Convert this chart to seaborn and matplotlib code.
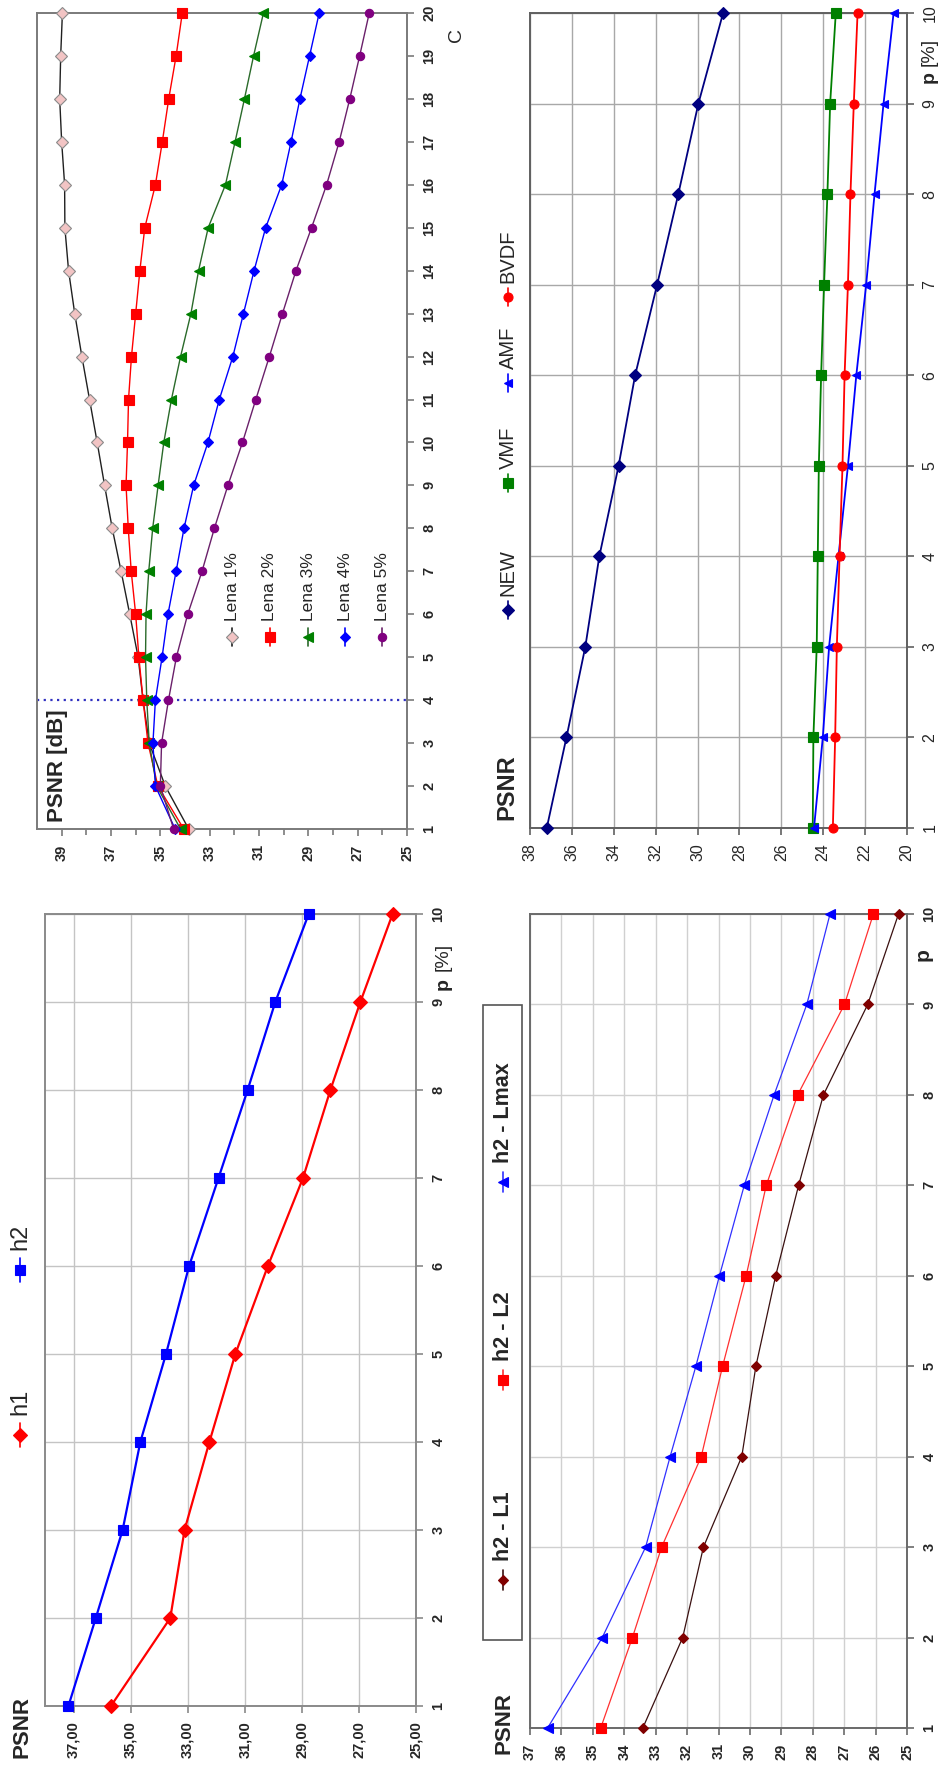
import matplotlib
matplotlib.use('Agg')
import matplotlib.pyplot as plt
from matplotlib.lines import Line2D
import seaborn as sns

# the whole sheet is a page of four charts turned 90 degrees counter-clockwise:
# PSNR runs along the image x axis (high on the left), p / C up the image y axis

W, H = 938, 1766

# --- panel A: PSNR [dB] vs C for Lena at several noise levels
c_vals = [1, 2, 3, 4, 5, 6, 7, 8, 9, 10, 11, 12, 13, 14, 15, 16, 17, 18, 19, 20]
lena_1 = [33.85, 34.80, 35.45, 35.70, 35.90, 36.24, 36.59, 36.95, 37.26, 37.56,
          37.87, 38.18, 38.47, 38.72, 38.87, 38.88, 39.00, 39.08, 39.04, 38.97]
lena_2 = [34.05, 35.10, 35.50, 35.70, 35.87, 36.00, 36.18, 36.30, 36.39, 36.33,
          36.29, 36.17, 36.00, 35.83, 35.63, 35.20, 34.92, 34.66, 34.36, 34.11]
lena_3 = [34.18, 35.15, 35.45, 35.55, 35.60, 35.58, 35.47, 35.31, 35.09, 34.86,
          34.55, 34.18, 33.76, 33.45, 33.06, 32.36, 31.97, 31.59, 31.22, 30.82]
lena_4 = [34.40, 35.20, 35.30, 35.20, 34.93, 34.69, 34.36, 34.04, 33.65, 33.07,
          32.61, 32.06, 31.63, 31.20, 30.73, 30.08, 29.70, 29.34, 28.95, 28.56]
lena_5 = [34.46, 35.00, 34.95, 34.67, 34.35, 33.89, 33.31, 32.81, 32.26, 31.67,
          31.13, 30.58, 30.05, 29.50, 28.87, 28.26, 27.75, 27.32, 26.92, 26.53]
lena_names = ['Lena 1%', 'Lena 2%', 'Lena 3%', 'Lena 4%', 'Lena 5%']
c_marked = 4

# --- p axis shared by the other three panels
p_vals = [1, 2, 3, 4, 5, 6, 7, 8, 9, 10]

# --- panel B: filters comparison
new_f = [37.20, 36.26, 35.36, 34.69, 33.77, 32.98, 31.93, 30.92, 29.96, 28.78]
vmf_f = [24.50, 24.47, 24.31, 24.26, 24.21, 24.10, 23.96, 23.80, 23.67, 23.40]
amf_f = [24.44, 24.02, 23.72, 23.27, 22.82, 22.42, 21.95, 21.55, 21.12, 20.64]
bvdf_f = [23.54, 23.43, 23.35, 23.22, 23.08, 22.98, 22.82, 22.70, 22.54, 22.36]
filter_names = ['NEW', 'VMF', 'AMF', 'BVDF']

# --- panel C: h1 / h2
h1 = [35.69, 33.61, 33.11, 32.24, 31.33, 30.19, 28.96, 28.00, 26.95, 25.82]
h2 = [37.18, 36.22, 35.28, 34.66, 33.76, 32.95, 31.92, 30.90, 29.93, 28.76]
h_names = ['h1', 'h2']

# --- panel D: h2 with different norms
h2_l1 = [33.41, 32.14, 31.48, 30.26, 29.81, 29.18, 28.45, 27.66, 26.25, 25.27]
h2_l2 = [34.75, 33.74, 32.81, 31.55, 30.87, 30.12, 29.48, 28.48, 26.99, 26.07]
h2_lmax = [36.44, 34.70, 33.32, 32.54, 31.72, 30.97, 30.18, 29.23, 28.19, 27.45]
norm_names = ['h2 - L1', 'h2 - L2', 'h2 - Lmax']

sns.set_theme(style='white')
plt.rcParams['font.family'] = ['Liberation Sans', 'DejaVu Sans']

fig = plt.figure(figsize=(W / 100, H / 100), dpi=100)


def add_panel(x0, y0, x1, y1):
    # pixel box of the reference -> figure fraction
    return fig.add_axes([x0 / W, 1 - y1 / H, (x1 - x0) / W, (y1 - y0) / H])


def fx(x):
    return x / W


def fy(y):
    return 1 - y / H


def style_axes(ax, xlim, xticks, xlabels, ylim, yticks, bold, frame, grid=None, fs=10):
    weight = 'bold' if bold else 'normal'
    ax.set_xlim(*xlim)
    ax.set_ylim(*ylim)
    ax.set_xticks(xticks, xlabels, rotation=90, fontsize=fs, fontweight=weight)
    ax.yaxis.tick_right()
    ax.set_yticks(yticks, [str(v) for v in yticks], rotation=90, va='center',
                  fontsize=fs, fontweight=weight)
    ax.tick_params(axis='x', bottom=True, top=False, direction='out', length=5,
                   width=1.2, color=frame, pad=6)
    ax.tick_params(axis='y', right=True, left=False, labelright=True, labelleft=False,
                   direction='out', length=5, width=1.2, color=frame, pad=6)
    for s in ax.spines.values():
        s.set_color(frame)
        s.set_linewidth(1.4)
    if grid:
        ax.grid(True, color=grid, lw=1)
    ax.set_xlabel('')
    ax.set_ylabel('')


def draw_series(ax, xs, ys, color, marker, ms, mfc=None, mec=None, lw=1.2, lc=None):
    sns.lineplot(x=xs, y=ys, sort=False, estimator=None, ax=ax, color=lc or color,
                 linewidth=lw, marker=marker, markersize=ms,
                 markerfacecolor=mfc or color, markeredgecolor=mec or color,
                 markeredgewidth=0.8, clip_on=False, zorder=3)


def legend_entry(x, y, label, color, marker, ms, mfc=None, mec=None, lc=None,
                 size=12, weight='normal', gap=15, half=9):
    # rotated legend key: short vertical stroke, marker, label reading upwards
    fig.add_artist(Line2D([fx(x), fx(x)], [fy(y + half), fy(y - half)],
                          color=lc or color, lw=1.2))
    fig.add_artist(Line2D([fx(x)], [fy(y)], marker=marker, markersize=ms,
                          markerfacecolor=mfc or color, markeredgecolor=mec or color,
                          markeredgewidth=0.8, linestyle='none'))
    fig.text(fx(x), fy(y - gap), label, rotation=90, ha='center', va='bottom',
             fontsize=size, fontweight=weight)


# ---------------- panel A (top left) ----------------
ax = add_panel(37, 13, 407, 829)
lena_style = [
    (lena_1, '#f2c4c4', 'D', 6.5, '#8a8a8a', '#202020'),
    (lena_2, '#ff0000', 's', 6.5, '#ff0000', '#ff0000'),
    (lena_3, '#008000', '<', 6.5, '#008000', '#2a6a2a'),
    (lena_4, '#0000ff', 'D', 5.5, '#0000ff', '#0000ff'),
    (lena_5, '#800080', 'o', 6.0, '#800080', '#6a206a'),
]
for vals, col, mk, ms, mec, lc in lena_style:
    draw_series(ax, vals, c_vals, col, mk, ms, mfc=col, mec=mec, lw=1.0, lc=lc)
ax.axhline(c_marked, color='#3030c0', lw=1.6, linestyle=(0, (1, 2)), zorder=2)
style_axes(ax, (40, 25), [39, 37, 35, 33, 31, 29, 27, 25],
           ['39', '37', '35', '33', '31', '29', '27', '25'],
           (1, 20), c_vals, True, '#7a7a7a', fs=10.5)
ax.set_xticks([38, 36, 34, 32, 30, 28, 26], minor=True)
ax.tick_params(axis='x', which='minor', bottom=True, direction='out', length=4,
               width=1.2, color='#7a7a7a')
fig.text(fx(57), fy(822), 'PSNR [dB]', rotation=90, ha='center', va='bottom',
         fontsize=16, fontweight='bold')
fig.text(fx(456), fy(35), 'C', rotation=90, ha='center', va='center', fontsize=14)
for i, (vals, col, mk, ms, mec, lc) in enumerate(lena_style):
    legend_entry([232, 270, 308, 345, 382][i], 637, lena_names[i], col, mk, ms,
                 mfc=col, mec=mec, lc=lc, size=12.5, gap=16)

# ---------------- panel B (top right) ----------------
ax = add_panel(530, 13, 907, 828)
filt_style = [
    (new_f, '#000080', 'D', 6.0),
    (vmf_f, '#008000', 's', 6.5),
    (amf_f, '#0000ff', '<', 6.0),
    (bvdf_f, '#ff0000', 'o', 6.5),
]
for vals, col, mk, ms in filt_style:
    draw_series(ax, vals, p_vals, col, mk, ms, lw=1.3)
style_axes(ax, (38, 20), [38, 36, 34, 32, 30, 28, 26, 24, 22, 20],
           ['38', '36', '34', '32', '30', '28', '26', '24', '22', '20'],
           (1, 10), p_vals, False, '#606060', grid='#a8a8a8', fs=11.5)
fig.text(fx(507), fy(820), 'PSNR', rotation=90, ha='center', va='bottom',
         fontsize=17, fontweight='bold')
fig.text(fx(929), fy(83), 'p', rotation=90, ha='center', va='bottom',
         fontsize=14, fontweight='bold')
fig.text(fx(929), fy(66), '[%]', rotation=90, ha='center', va='bottom', fontsize=14)
for i, (vals, col, mk, ms) in enumerate(filt_style):
    legend_entry(508, [610, 483, 383, 297][i], filter_names[i], col, mk, ms,
                 size=14.5, gap=14)

# ---------------- panel C (bottom left) ----------------
ax = add_panel(45, 914, 416, 1706)
h_style = [(h1, '#ff0000', 'D', 7.5), (h2, '#0000ff', 's', 7.5)]
for vals, col, mk, ms in h_style:
    draw_series(ax, vals, p_vals, col, mk, ms, lw=1.6)
style_axes(ax, (38, 25), [37, 35, 33, 31, 29, 27, 25],
           ['37,00', '35,00', '33,00', '31,00', '29,00', '27,00', '25,00'],
           (1, 10), p_vals, True, '#8a8a8a', grid='#c4c4c4', fs=10.5)
fig.text(fx(22), fy(1758), 'PSNR', rotation=90, ha='center', va='bottom',
         fontsize=16, fontweight='bold')
fig.text(fx(443), fy(990), 'p', rotation=90, ha='center', va='bottom',
         fontsize=14, fontweight='bold')
fig.text(fx(443), fy(971), '[%]', rotation=90, ha='center', va='bottom', fontsize=14)
for i, (vals, col, mk, ms) in enumerate(h_style):
    legend_entry(20, [1435, 1270][i], h_names[i], col, mk, ms, size=17, gap=20, half=12)

# ---------------- panel D (bottom right) ----------------
ax = add_panel(530, 914, 907, 1728)
norm_style = [
    (h2_l1, '#800000', 'D', 5.0, '#3a1010'),
    (h2_l2, '#ff0000', 's', 6.5, '#ff3030'),
    (h2_lmax, '#0000ff', '<', 6.5, '#3030ff'),
]
for vals, col, mk, ms, lc in norm_style:
    draw_series(ax, vals, p_vals, col, mk, ms, lw=0.9, lc=lc)
style_axes(ax, (37, 25), list(range(37, 24, -1)), [str(v) for v in range(37, 24, -1)],
           (1, 10), p_vals, True, '#6a6a6a', grid='#d0d0d0', fs=10.5)
fig.text(fx(504), fy(1754), 'PSNR', rotation=90, ha='center', va='bottom',
         fontsize=16, fontweight='bold')
fig.text(fx(923), fy(961), 'p', rotation=90, ha='center', va='bottom',
         fontsize=15, fontweight='bold')
box = plt.Rectangle((fx(483), fy(1640)), fx(522) - fx(483), fy(1005) - fy(1640),
                    transform=fig.transFigure, fill=False, edgecolor='#555555', lw=1.2)
fig.add_artist(box)
for i, (vals, col, mk, ms, lc) in enumerate(norm_style):
    legend_entry(503, [1580, 1380, 1182][i], norm_names[i], col, mk, ms, lc=lc,
                 size=15.5, weight='bold', gap=19, half=10)

fig.savefig('out.png', dpi=100)
